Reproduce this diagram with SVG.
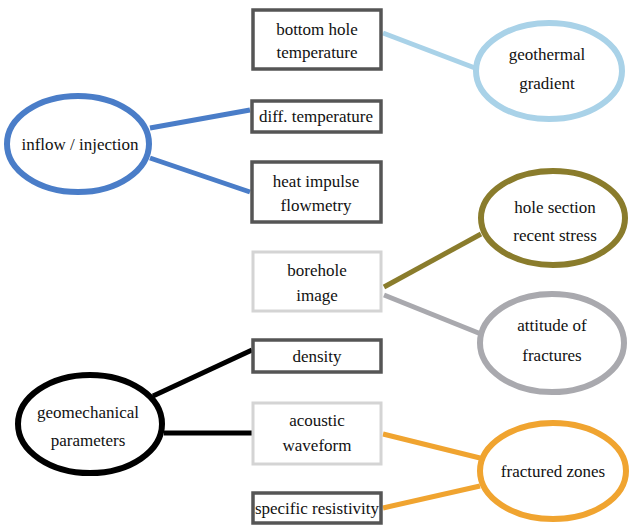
<svg xmlns="http://www.w3.org/2000/svg" width="633" height="527" viewBox="0 0 633 527">
<style>
text{font-family:"Liberation Serif","Times New Roman",serif;font-size:17px;fill:#111;text-anchor:middle}
.box{fill:#fff;stroke:#555;stroke-width:3.5}
.lbox{fill:#fff;stroke:#d4d4d4;stroke-width:3}
.ell{fill:#fff;stroke-width:6}
.c{fill:none;stroke-width:5;stroke-linecap:butt}
</style>
<rect width="633" height="527" fill="#fff"/>
<g id="connectors">
<line class="c" x1="383" y1="33" x2="475" y2="68" stroke="#a9d2e8"/>
<line class="c" x1="150" y1="128" x2="250" y2="110" stroke="#4a7dc8"/>
<line class="c" x1="150" y1="158" x2="250" y2="192" stroke="#4a7dc8"/>
<line class="c" x1="384" y1="287" x2="481" y2="234" stroke="#8a7c2c"/>
<line class="c" x1="384" y1="295" x2="481" y2="334" stroke="#a9a9ae"/>
<line class="c" x1="153" y1="396" x2="252" y2="350" stroke="#000" stroke-width="6"/>
<line class="c" x1="164" y1="433" x2="252" y2="433" stroke="#000" stroke-width="7"/>
<line class="c" x1="383" y1="434" x2="480" y2="458" stroke="#f0a430"/>
<line class="c" x1="383" y1="508" x2="480" y2="486" stroke="#f0a430"/>
</g>
<g id="bottom-hole-temperature"><rect class="box" x="253" y="10" width="128" height="59"/><text x="317" y="35">bottom hole</text><text x="317" y="58">temperature</text></g>
<g id="diff-temperature"><rect class="box" x="252" y="101" width="129" height="31"/><text x="316" y="122">diff. temperature</text></g>
<g id="heat-impulse-flowmetry"><rect class="box" x="252" y="162" width="129" height="60"/><text x="316" y="187">heat impulse</text><text x="316" y="211">flowmetry</text></g>
<g id="borehole-image"><rect class="lbox" x="253" y="252" width="128" height="59"/><text x="317" y="276">borehole</text><text x="317" y="301">image</text></g>
<g id="density"><rect class="box" x="253" y="340" width="128" height="32"/><text x="317" y="362">density</text></g>
<g id="acoustic-waveform"><rect class="lbox" x="253" y="403" width="128" height="61"/><text x="317" y="426">acoustic</text><text x="317" y="451">waveform</text></g>
<g id="specific-resistivity"><rect class="box" x="253" y="493" width="128" height="30"/><text x="317" y="514">specific resistivity</text></g>
<g id="inflow-injection"><ellipse class="ell" cx="78" cy="144" rx="71" ry="48" stroke="#4a7dc8" stroke-width="5.5"/><text x="80" y="150">inflow / injection</text></g>
<g id="geothermal-gradient"><ellipse class="ell" cx="549" cy="71" rx="73" ry="48" stroke="#a9d2e8"/><text x="547" y="60">geothermal</text><text x="547" y="89">gradient</text></g>
<g id="hole-section-recent-stress"><ellipse class="ell" cx="553" cy="218" rx="72" ry="47" stroke="#8a7c2c"/><text x="555" y="213">hole section</text><text x="555" y="241">recent stress</text></g>
<g id="attitude-of-fractures"><ellipse class="ell" cx="552" cy="343" rx="72" ry="49" stroke="#a9a9ae"/><text x="552" y="331">attitude of</text><text x="552" y="361">fractures</text></g>
<g id="geomechanical-parameters"><ellipse class="ell" cx="90" cy="424" rx="72" ry="49" stroke="#000"/><text x="88" y="418">geomechanical</text><text x="88" y="446">parameters</text></g>
<g id="fractured-zones"><ellipse class="ell" cx="553" cy="471" rx="73" ry="48" stroke="#f0a430"/><text x="553" y="477">fractured zones</text></g>
</svg>
